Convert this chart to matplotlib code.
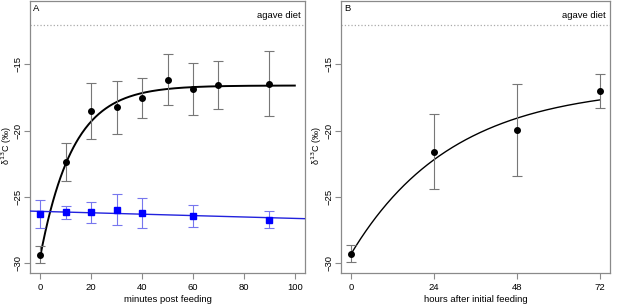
import numpy as np
import matplotlib
matplotlib.use('Agg')
import matplotlib.pyplot as plt

# Panel A: minutes post feeding
min_x = [0, 10, 20, 30, 40, 50, 60, 70, 90]
min_y = [-29.33, -22.38, -18.5, -18.25, -17.55, -16.15, -16.85, -16.55, -16.45]
min_err = [0.62, 1.45, 2.12, 2.02, 1.5, 1.95, 1.95, 1.82, 2.42]

ctrl_x = [0, 10, 20, 30, 40, 60, 90]
ctrl_y = [-26.25, -26.15, -26.15, -25.95, -26.2, -26.43, -26.7]
ctrl_err = [1.05, 0.47, 0.8, 1.15, 1.13, 0.8, 0.65]

# fitted models (from the figure)
fitA = dict(plateau=-16.6, start=-29.5, k=0.078)
ctrl_fit = dict(intercept=-26.08, slope=-0.0053)

# Panel B: hours after initial feeding
hr_x = [0, 24, 48, 72]
hr_y = [-29.28, -21.58, -19.95, -17.03]
hr_err = [0.63, 2.85, 3.48, 1.28]
fitB = dict(plateau=-16.6, start=-29.3, k=0.0342)

agave = -12.05

plt.rcParams['font.family'] = ['Liberation Sans', 'DejaVu Sans']
plt.rcParams['font.size'] = 6.5

fig = plt.figure(figsize=(6.17, 3.05), dpi=100)
axA = fig.add_axes([30 / 617, 1 - 272.7 / 305, 275 / 617, 271.5 / 305])
axB = fig.add_axes([341 / 617, 1 - 272.7 / 305, 269 / 617, 271.5 / 305])

ylim = (-30.7, -10.25)
box_col = '#8a8a8a'


def style(ax, xticks, xlabel, ylab_x):
    ax.set_ylim(*ylim)
    ax.set_xticks(xticks)
    ax.set_yticks([-30, -25, -20, -15])
    ax.set_yticklabels(['\u221230', '\u221225', '\u221220', '\u221215'],
                       rotation=90, va='center')
    for s in ax.spines.values():
        s.set_color(box_col)
        s.set_linewidth(0.9)
    ax.tick_params(color=box_col, length=4, width=0.8, labelsize=6.8)
    ax.tick_params(axis='x', pad=3.5)
    ax.tick_params(axis='y', pad=1.5)
    ax.set_ylabel('\u03b4$^{13}$C (\u2030)', fontsize=6.5, va='center')
    ax.yaxis.set_label_coords(ylab_x, 0.47)
    ax.set_xlabel(xlabel, fontsize=6.8, va='center')
    ax.xaxis.set_label_coords(0.5, -0.1005)
    ax.axhline(agave, color='#aaaaaa', ls=':', lw=0.9)
    ax.text(0.985, agave + 0.35, 'agave diet', transform=ax.get_yaxis_transform(),
            ha='right', va='bottom', fontsize=6.8)


# Panel A
style(axA, [0, 20, 40, 60, 80, 100], 'minutes post feeding', -0.0855)
axA.set_xlim(-4, 104)
xx = np.linspace(0, 100, 300)
axA.plot(xx, fitA['plateau'] + (fitA['start'] - fitA['plateau']) * np.exp(-fitA['k'] * xx),
         color='black', lw=1.4, zorder=3)
xl = np.array([-4, 104])
axA.plot(xl, ctrl_fit['intercept'] + ctrl_fit['slope'] * xl, color='#2222dd', lw=1.0, zorder=3)
axA.errorbar(min_x, min_y, yerr=min_err, fmt='o', color='black', ms=4,
             ecolor='#777777', elinewidth=0.8, capsize=3.5, capthick=0.8, zorder=4)
axA.errorbar(ctrl_x, ctrl_y, yerr=ctrl_err, fmt='s', color='#0000ff', ms=4,
             ecolor='#7777ee', elinewidth=0.8, capsize=3.5, capthick=0.8, zorder=4)
axA.text(0.012, 0.988, 'A', transform=axA.transAxes, ha='left', va='top', fontsize=6.8)

# Panel B
style(axB, [0, 24, 48, 72], 'hours after initial feeding', -0.091)
axB.set_xlim(-2.88, 74.88)
xb = np.linspace(0, 72, 300)
axB.plot(xb, fitB['plateau'] + (fitB['start'] - fitB['plateau']) * np.exp(-fitB['k'] * xb),
         color='black', lw=1.0, zorder=3)
axB.errorbar(hr_x, hr_y, yerr=hr_err, fmt='o', color='black', ms=4,
             ecolor='#777777', elinewidth=0.8, capsize=3.5, capthick=0.8, zorder=4)
axB.text(0.012, 0.988, 'B', transform=axB.transAxes, ha='left', va='top', fontsize=6.8)

fig.savefig('out.png', dpi=100)
